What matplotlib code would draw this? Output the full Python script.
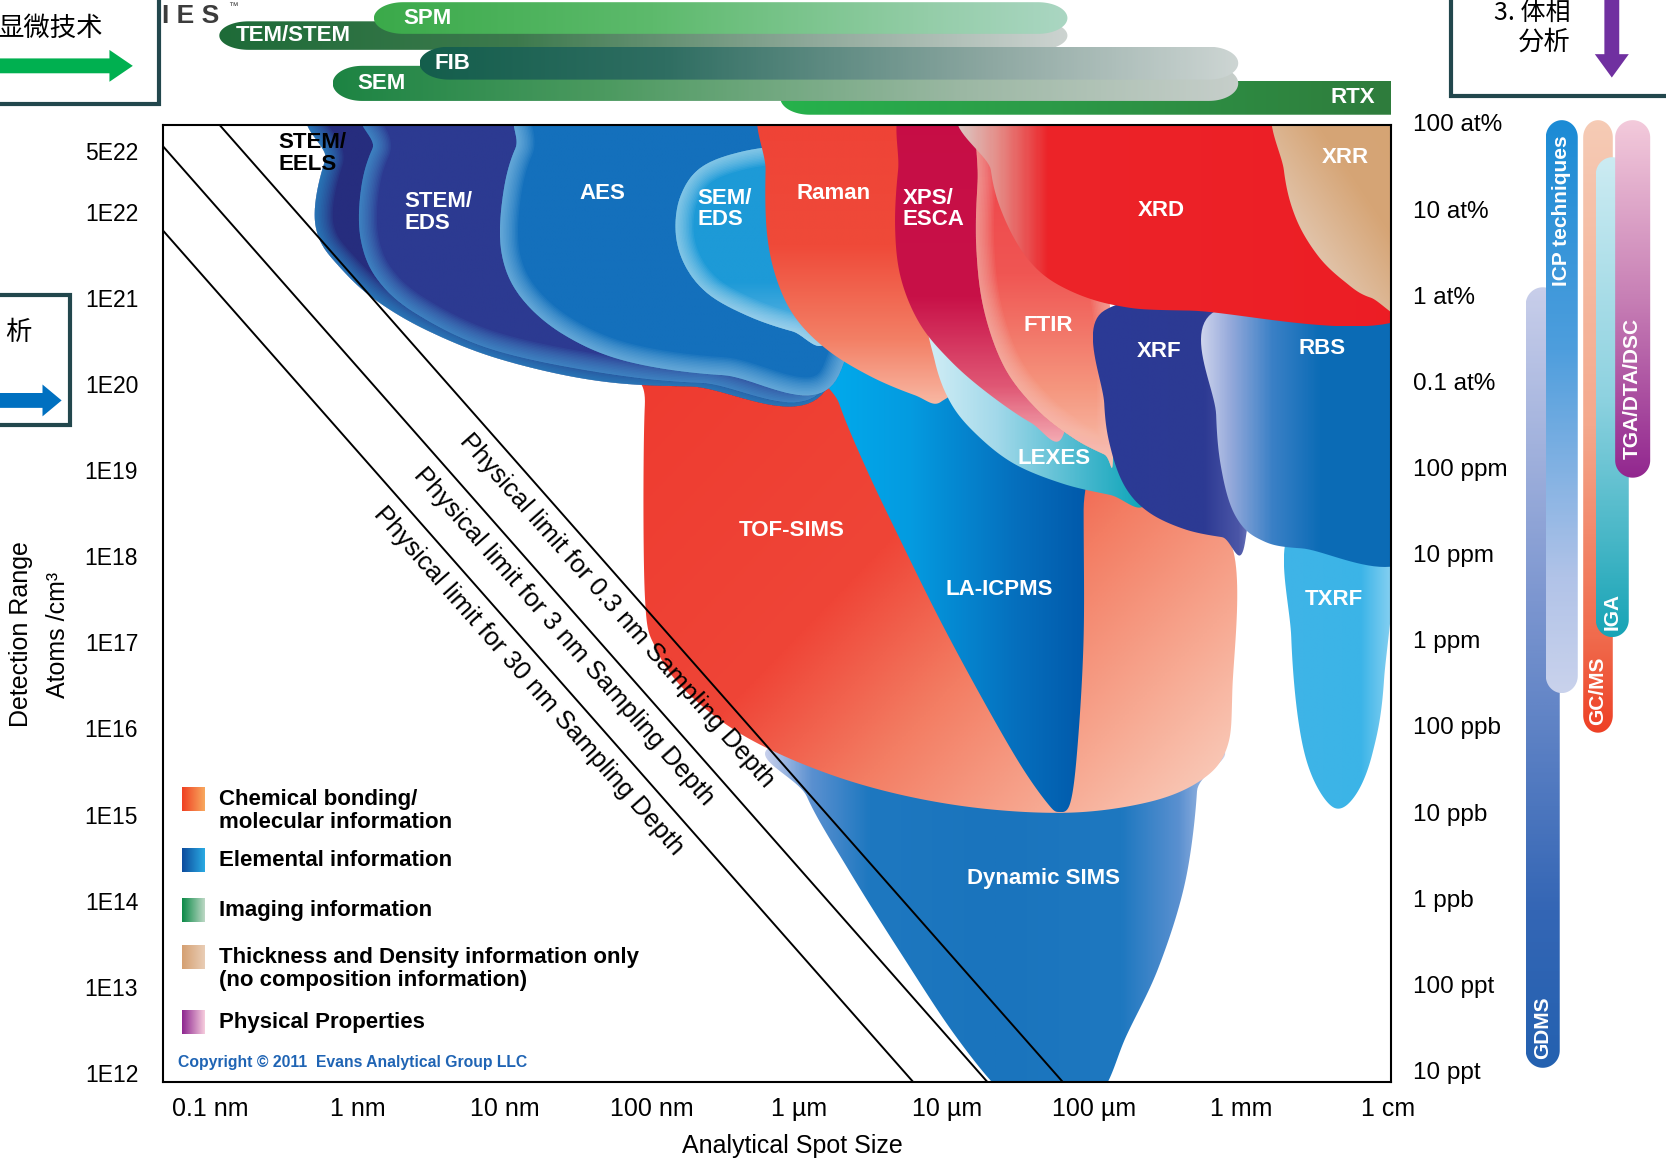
import numpy as np
import matplotlib
matplotlib.use('Agg')
import matplotlib.pyplot as plt
from matplotlib.path import Path
from matplotlib.patches import PathPatch, Rectangle, FancyArrow
from matplotlib.colors import LinearSegmentedColormap
from matplotlib.transforms import blended_transform_factory

plt.rcParams['font.family'] = ['Liberation Sans', 'DejaVu Sans']
CJK = ['Noto Sans CJK SC', 'DejaVu Sans']

# ---------------------------------------------------------------------------
# Axes: x = log10(spot size / m), y = log10(atoms / cm^3)
# ---------------------------------------------------------------------------
X_TICKS = [-10, -9, -8, -7, -6, -5, -4, -3, -2]
X_LABELS = ['0.1 nm', '1 nm', '10 nm', '100 nm', '1 µm', '10 µm', '100 µm', '1 mm', '1 cm']
Y_TICKS = [22.7, 22, 21, 20, 19, 18, 17, 16, 15, 14, 13, 12]
Y_LABELS = ['5E22', '1E22', '1E21', '1E20', '1E19', '1E18', '1E17', '1E16',
            '1E15', '1E14', '1E13', '1E12']
R_TICKS = [23, 22, 21, 20, 19, 18, 17, 16, 15, 14, 13, 12]
R_LABELS = ['100 at%', '10 at%', '1 at%', '0.1 at%', '100 ppm', '10 ppm', '1 ppm',
            '100 ppb', '10 ppb', '1 ppb', '100 ppt', '10 ppt']

# physical limit lines: y = -LIMIT_SLOPE * x + intercept
LIMIT_DEPTH = ['0.3 nm', '3 nm', '30 nm']
LIMIT_INTERCEPT = [3.725, 2.732, 1.754]
LIMIT_SLOPE = 1.94
LIMIT_LABEL_X = [-7.18, -7.54, -7.78]

# ---------------------------------------------------------------------------
# Technique regions (outlines)
# ---------------------------------------------------------------------------
DSIMS_X = [-6.05, -3.32, -3.30, -3.38, -3.56, -3.78, -3.96, -4.29, -4.61, -4.94, -5.30, -5.66, -5.95]
DSIMS_Y = [15.85, 15.85, 15.27, 14.22, 13.23, 12.43, 11.75, 11.38, 11.75, 12.43, 13.36, 14.34, 15.21]
TOF_X = [-6.98, -7.05, -7.05, -6.97, -6.74, -6.31, -5.66, -4.94, -4.21, -3.64, -3.28, -3.10, -3.06, -3.06, -3.49, -4.94, -5.80]
TOF_Y = [20.01, 19.75, 17.55, 16.91, 16.38, 15.85, 15.39, 15.11, 15.02, 15.14, 15.39, 15.76, 16.44, 18.10, 18.78, 19.64, 20.01]
LAICP_X = [-5.84, -5.73, -5.55, -5.31, -5.04, -4.75, -4.50, -4.32, -4.24, -4.16, -4.11, -4.07, -4.07, -4.07]
LAICP_Y = [20.45, 19.77, 19.03, 18.17, 17.24, 16.32, 15.58, 15.14, 15.03, 15.14, 15.82, 17.06, 18.54, 20.45]
STEM_EELS_X = [-9.05, -9.22, -9.29, -9.26, -9.13, -8.90, -8.54, -8.04, -7.39, -6.74, -5.80, -5.73]
STEM_EELS_Y = [23.3, 22.6, 22.05, 21.68, 21.37, 21.0, 20.63, 20.29, 20.04, 19.97, 19.99, 23.3]
STEM_EDS_X = [-8.70, -8.90, -8.98, -8.98, -8.87, -8.61, -8.11, -7.39, -6.67, -5.80, -5.73]
STEM_EDS_Y = [23.3, 22.73, 22.23, 21.68, 21.22, 20.82, 20.41, 20.14, 20.01, 20.04, 23.3]
AES_X = [-7.71, -7.93, -8.02, -8.02, -7.89, -7.60, -7.17, -6.52, -5.73, -5.66]
AES_Y = [23.3, 22.73, 22.11, 21.49, 21.00, 20.57, 20.26, 20.10, 20.11, 23.3]
SEM_EDS_X = [-5.95, -6.38, -6.67, -6.81, -6.84, -6.77, -6.61, -6.34, -6.05, -5.80, -5.66, -5.73]
SEM_EDS_Y = [22.80, 22.70, 22.51, 22.17, 21.74, 21.35, 21.03, 20.78, 20.61, 20.53, 21.99, 22.85]
RAMAN_X = [-6.20, -6.23, -6.22, -6.15, -6.02, -5.80, -5.51, -5.22, -5.04, -4.90, -5.08, -5.15]
RAMAN_Y = [23.3, 22.48, 21.74, 21.19, 20.75, 20.38, 20.08, 19.87, 19.79, 20.26, 21.99, 23.3]
LEXES_X = [-5.12, -5.08, -4.97, -4.79, -4.54, -4.21, -3.89, -3.64, -3.60, -4.21, -4.79]
LEXES_Y = [20.88, 20.26, 19.77, 19.40, 19.07, 18.84, 18.71, 18.63, 19.77, 20.75, 21.00]
XPS_X = [-5.26, -5.33, -5.35, -5.31, -5.18, -4.97, -4.72, -4.43, -4.21, -4.14, -4.50]
XPS_Y = [23.3, 22.48, 21.80, 21.22, 20.69, 20.26, 19.89, 19.55, 19.40, 20.75, 23.3]
FTIR_X = [-4.75, -4.79, -4.80, -4.75, -4.61, -4.39, -4.14, -3.93, -3.87, -3.89, -4.21]
FTIR_Y = [23.3, 22.36, 21.62, 20.88, 20.20, 19.71, 19.37, 19.18, 19.15, 20.88, 23.3]
XRF_X = [-3.93, -3.93, -3.88, -3.78, -3.62, -3.38, -3.13, -2.97, -2.91]
XRF_Y = [20.85, 19.77, 19.21, 18.78, 18.50, 18.31, 18.22, 18.20, 20.85]
RBS_X = [-3.17, -3.17, -3.13, -3.04, -2.88, -2.59, -1.80, -1.80]
RBS_Y = [20.85, 19.64, 18.97, 18.47, 18.20, 18.09, 18.08, 20.85]
TXRF_X = [-2.66, -2.66, -2.61, -2.52, -2.37, -2.23, -2.11, -2.03, -2.01]
TXRF_Y = [18.30, 17.06, 16.07, 15.45, 15.08, 15.21, 15.70, 16.56, 18.30]
XRD_X = [-4.72, -4.70, -4.61, -4.44, -4.21, -3.85, -3.35, -1.80, -1.80]
XRD_Y = [23.3, 22.48, 21.93, 21.43, 21.12, 20.91, 20.85, 20.85, 23.3]
XRR_X = [-2.73, -2.71, -2.63, -2.48, -2.30, -2.12, -1.80, -1.80]
XRR_Y = [23.3, 22.48, 21.93, 21.49, 21.19, 21.00, 20.91, 23.3]

# region labels
LABEL_TEXT = ['STEM/\nEELS', 'STEM/\nEDS', 'AES', 'SEM/\nEDS', 'Raman', 'XPS/\nESCA', 'XRD', 'XRR',
              'FTIR', 'XRF', 'RBS', 'LEXES', 'TOF-SIMS', 'LA-ICPMS', 'TXRF', 'Dynamic SIMS']
LABEL_X = [-9.54, -8.68, -7.34, -6.69, -5.77, -5.30, -3.54, -2.29,
           -4.31, -3.56, -2.45, -4.27, -6.05, -4.64, -2.37, -4.34]
LABEL_Y = [22.67, 21.99, 22.21, 22.03, 22.21, 22.03, 22.01, 22.63,
           20.68, 20.38, 20.41, 19.13, 18.30, 17.61, 17.50, 14.26]

# imaging techniques (top bars), in draw order
BAR_NAMES = ['RTX', 'SEM', 'TEM/STEM', 'SPM', 'FIB']
BAR_X0 = [-6.13, -9.17, -9.94, -8.89, -8.58]
BAR_X1 = [-1.90, -3.02, -4.18, -4.18, -3.02]
BAR_Y0 = [0.34, 0.78, 2.41, 2.92, 1.46]
BAR_Y1 = [1.42, 1.90, 3.32, 3.93, 2.51]
BAR_LABEL_X = [-2.09, -9.00, -9.83, -8.69, -8.48]

# bulk techniques (right bars), in draw order
RB_NAMES = ['GDMS', 'ICP techniques', 'GC/MS', 'IGA', 'TGA/DTA/DSC']
RB_X0 = [0.5, 1.09, 2.19, 2.56, 3.13]
RB_X1 = [1.5, 2.03, 3.06, 3.53, 4.16]
RB_Y0 = [12.06, 16.41, 15.95, 17.06, 18.91]
RB_Y1 = [21.12, 23.06, 23.06, 22.63, 23.06]
RB_LABEL_Y = [12.53, 22.01, 16.44, 17.36, 19.95]

LEGEND_TEXT = ['Chemical bonding/\nmolecular information', 'Elemental information',
               'Imaging information',
               'Thickness and Density information only\n(no composition information)',
               'Physical Properties']
LEGEND_Y = [15.18, 14.47, 13.89, 13.34, 12.59]
LEGEND_TEXT_Y = [15.04, 14.47, 13.89, 13.21, 12.59]
LEGEND_COLORS = [('#EF4123', '#F8A85E'), ('#0D4C9E', '#2AAAE2'), ('#0C8A48', '#BCD8C4'),
                 ('#D5A072', '#E9CDB5'), ('#8E2690', '#F6CCDD')]


def smooth_closed(xs, ys, n=24):
    p = np.column_stack([xs, ys]).astype(float)
    m = len(p)
    t = np.linspace(0, 1, n, endpoint=False)[:, None]
    segs = []
    for i in range(m):
        p0, p1, p2, p3 = p[i - 1], p[i], p[(i + 1) % m], p[(i + 2) % m]
        segs.append(0.5 * (2 * p1 + (p2 - p0) * t + (2 * p0 - 5 * p1 + 4 * p2 - p3) * t ** 2
                           + (3 * p1 - p0 - 3 * p2 + p3) * t ** 3))
    out = np.vstack(segs)
    return np.vstack([out, out[:1]])


def pill(x0, x1, y0, y1, rx, ry, vertical=False, square_right=False):
    t = np.linspace(-np.pi / 2, np.pi / 2, 40)
    if not vertical:
        yc = (y0 + y1) / 2
        ry = (y1 - y0) / 2
        if square_right:
            right = np.array([[x1, y0], [x1, y1]])
        else:
            right = np.column_stack([x1 - rx + rx * np.cos(t), yc + ry * np.sin(t)])
        left = np.column_stack([x0 + rx - rx * np.cos(t), yc - ry * np.sin(t)])
        v = np.vstack([right, left])
    else:
        xc = (x0 + x1) / 2
        rx = (x1 - x0) / 2
        top = np.column_stack([xc + rx * np.sin(t), y1 - ry + ry * np.cos(t)])
        bot = np.column_stack([xc - rx * np.sin(t), y0 + ry - ry * np.cos(t)])
        v = np.vstack([top, bot])
    return np.vstack([v, v[:1]])


def shade(axis, verts, stops, angle=0.0, z=1, rim=None):
    path = Path(verts, closed=True)
    clip = PathPatch(path, facecolor='none', edgecolor='none', zorder=z)
    axis.add_patch(clip)
    x0, y0 = verts.min(axis=0)
    x1, y1 = verts.max(axis=0)
    u, v = np.meshgrid(np.linspace(0, 1, 300), np.linspace(0, 1, 300))
    if angle == 'sym':
        g = np.abs(2 * u - 1)
    else:
        a = np.radians(angle)
        g = u * np.cos(a) + v * np.sin(a)
        g = (g - g.min()) / (g.max() - g.min())
    cmap = LinearSegmentedColormap.from_list('g', stops)
    im = axis.imshow(g, extent=(x0, x1, y0, y1), origin='upper', cmap=cmap, vmin=0, vmax=1,
                     aspect='auto', interpolation='bilinear', zorder=z)
    im.set_clip_path(clip)
    if rim:
        # soft inner glow along the outline
        for lw in np.linspace(26, 2, 12):
            r = PathPatch(path, facecolor='none', edgecolor=rim, lw=lw, alpha=0.075,
                          zorder=z, joinstyle='round')
            axis.add_patch(r)
            r.set_clip_path(clip)


fig = plt.figure(figsize=(16.66, 11.62), dpi=100)
fig.patch.set_facecolor('white')

# decorations (cropped boxes) in picture coordinates
ov = fig.add_axes([0, 0, 1, 1], zorder=-5)
ov.set_xlim(0, 1568)
ov.set_ylim(1094, 0)
ov.axis('off')
BOX = '#22474D'
ov.add_patch(Rectangle((-10, -10), 160, 108, fc='white', ec=BOX, lw=3))
ov.text(97, 27, '显微技术', ha='right', va='center', fontsize=19, family=CJK)
ov.add_patch(FancyArrow(-5, 62, 130, 0, width=14, head_width=30, head_length=22,
                        length_includes_head=True, fc='#00B050', ec='none'))
ov.add_patch(Rectangle((-10, 278), 76, 122, fc='white', ec=BOX, lw=3))
ov.text(17, 313, '析', ha='center', va='center', fontsize=19, family=CJK)
ov.add_patch(FancyArrow(-5, 377, 63, 0, width=14, head_width=30, head_length=18,
                        length_includes_head=True, fc='#0070C0', ec='none'))
ov.add_patch(Rectangle((1366, -10), 220, 100, fc='white', ec=BOX, lw=3))
ov.text(1478, 13, '3. 体相', ha='right', va='center', fontsize=18, family=CJK)
ov.text(1478, 40, '分析', ha='right', va='center', fontsize=19, family=CJK)
ov.add_patch(FancyArrow(1517, -5, 0, 78, width=14, head_width=32, head_length=22,
                        length_includes_head=True, fc='#7030A0', ec='none'))
ov.text(152, 15, 'I E S', ha='left', va='center', fontsize=19, fontweight='bold', color='#3C3C3C')
ov.text(215, 6, '™', ha='left', va='center', fontsize=7, color='#3C3C3C')

# main chart
ax = fig.add_axes([0.0976, 0.0692, 0.7372, 0.8229])
ax.set_xlim(-10.325, -1.984)
ax.set_ylim(11.9, 23.0)
ax.set_autoscale_on(False)
ax.set_facecolor('white')

SHAPES = [
    (DSIMS_X, DSIMS_Y, [(0, '#1A74BD'), (0.55, '#1E78C0'), (0.8, '#5A90D0'), (1, '#C6CFEC')], 'sym', None),
    (TOF_X, TOF_Y, [(0, '#EE3B30'), (0.4, '#EF4537'), (0.6, '#F37D63'), (0.8, '#F7A891'), (1, '#FAD3C3')], 35, None),
    (LAICP_X, LAICP_Y, [(0, '#00AEEF'), (0.35, '#049BE0'), (0.7, '#0670BE'), (1, '#0054A6')], 0, None),
    (STEM_EELS_X, STEM_EELS_Y, [(0, '#262D7E'), (1, '#262D7E')], 0, '#35A6DE'),
    (STEM_EDS_X, STEM_EDS_Y, [(0, '#2C3A91'), (1, '#2C3A91')], 0, '#4FB4E4'),
    (AES_X, AES_Y, [(0, '#1470BC'), (1, '#1470BC')], 0, '#9BD0EE'),
    (SEM_EDS_X, SEM_EDS_Y, [(0, '#1D9AD7'), (0.7, '#1D9AD7'), (1, '#6FBCE6')], 90, '#C6E6F6'),
    (RAMAN_X, RAMAN_Y, [(0, '#EF4136'), (0.5, '#EF4A39'), (0.8, '#F38066'), (1, '#F8B7A2')], 90, None),
    (LEXES_X, LEXES_Y, [(0, '#D2EEF6'), (0.3, '#A3D9EA'), (0.7, '#42B6CC'), (1, '#00A1B3')], 0, None),
    (XPS_X, XPS_Y, [(0, '#C60D45'), (0.6, '#C81148'), (0.85, '#E05875'), (1, '#F3A9B1')], 90, None),
    (FTIR_X, FTIR_Y, [(0, '#EE3A46'), (0.5, '#F05653'), (0.8, '#F5977F'), (1, '#F9C3B1')], 90, '#F6C2BA'),
    (TXRF_X, TXRF_Y, [(0, '#3FB4E7'), (0.7, '#3BB4E8'), (1, '#8BD2F2')], 0, None),
    (XRF_X, XRF_Y, [(0, '#2B3A96'), (0.65, '#2D3A93'), (0.85, '#4B56A7'), (1, '#9AA2D6')], 0, None),
    (RBS_X, RBS_Y, [(0, '#CDD3EC'), (0.12, '#96AADB'), (0.3, '#3A80C6'), (0.5, '#0C6CB6'), (1, '#0B6BB5')], 0, None),
    (XRD_X, XRD_Y, [(0, '#DCC8C4'), (0.08, '#E58D88'), (0.18, '#EC2429'), (1, '#ED1C24')], 0, None),
    (XRR_X, XRR_Y, [(0, '#D4A473'), (0.45, '#D6A576'), (0.75, '#E2C6AE'), (1, '#E6EEF0')], 135, None),
]
for z, (xs, ys, stops, ang, rim) in enumerate(SHAPES):
    shade(ax, smooth_closed(xs, ys), stops, ang, z=2 + z, rim=rim)

for name, lx, ly in zip(LABEL_TEXT, LABEL_X, LABEL_Y):
    multi = '\n' in name
    ax.text(lx, ly, name, ha='left' if multi else 'center', va='center',
            fontsize=16, fontweight='bold', linespacing=1.05,
            color='black' if name.startswith('STEM/\nEELS') else 'white', zorder=40)

# physical limit lines
xx = np.array([-10.6, -3.0])
for depth, c, lx in zip(LIMIT_DEPTH, LIMIT_INTERCEPT, LIMIT_LABEL_X):
    ax.plot(xx, -LIMIT_SLOPE * xx + c, color='black', lw=1.4, zorder=45)
    p = ax.transData.transform([[lx, -LIMIT_SLOPE * lx + c], [lx + 1, -LIMIT_SLOPE * (lx + 1) + c]])
    ang = np.degrees(np.arctan2(p[1, 1] - p[0, 1], p[1, 0] - p[0, 0]))
    ax.text(lx, -LIMIT_SLOPE * lx + c - 0.2, f'Physical limit for {depth} Sampling Depth',
            rotation=ang, rotation_mode='anchor', ha='center', va='top', fontsize=18.5, zorder=46)

# legend
for (c0, c1), sy, ty, txt in zip(LEGEND_COLORS, LEGEND_Y, LEGEND_TEXT_Y, LEGEND_TEXT):
    cm = LinearSegmentedColormap.from_list('s', [c0, c1])
    ax.imshow(np.linspace(0, 1, 50)[None, :], extent=(-10.19, -10.04, sy - 0.135, sy + 0.135),
              cmap=cm, aspect='auto', zorder=40)
    ax.text(-9.94, ty, txt, ha='left', va='center', fontsize=16, fontweight='bold',
            linespacing=1.1, zorder=40)
ax.text(-10.22, 12.12, 'Copyright © 2011  Evans Analytical Group LLC', ha='left', va='center',
        fontsize=11.3, fontweight='bold', color='#1F64B4', zorder=40)

ax.set_xticks(X_TICKS, X_LABELS)
ax.set_yticks(Y_TICKS, Y_LABELS)
ax.tick_params(axis='x', length=0, pad=11, labelsize=18)
ax.tick_params(axis='y', length=0, pad=17.6, labelsize=16.5)
for s in ax.spines.values():
    s.set_linewidth(1.5)
    s.set_zorder(60)

blend = blended_transform_factory(ax.transAxes, ax.transData)
for ry, rl in zip(R_TICKS, R_LABELS):
    ax.text(1.018, ry, rl, transform=blend, ha='left', va='center', fontsize=17.5, clip_on=False)

fig.text(0.4758, 0.0134, 'Analytical Spot Size', ha='center', va='center', fontsize=18)
fig.text(0.0128, 0.454, 'Detection Range', rotation=90, ha='center', va='center', fontsize=18)
fig.text(0.0351, 0.454, 'Atoms /cm³', rotation=90, ha='center', va='center', fontsize=18)

# imaging techniques above the chart
ax_top = fig.add_axes([0.0976, 0.8921, 0.7372, 0.1079])
ax_top.set_xlim(-10.325, -1.984)
ax_top.set_ylim(0, 4)
ax_top.set_autoscale_on(False)
ax_top.axis('off')
BAR_STOPS = {
    'RTX': [(0, '#26B24C'), (0.4, '#2C9C48'), (1, '#2F7B3C')],
    'SEM': [(0, '#1D8443'), (0.3, '#4C9A60'), (0.7, '#9CB8A4'), (1, '#C6CECA')],
    'TEM/STEM': [(0, '#1E6B38'), (0.35, '#3D7A4D'), (0.7, '#8FA99A'), (1, '#CCD3D0')],
    'SPM': [(0, '#3BAA4A'), (0.4, '#5DBA6C'), (0.8, '#94CDA8'), (1, '#AAD6C2')],
    'FIB': [(0, '#145E4C'), (0.3, '#2F6E62'), (0.7, '#8EA8A2'), (1, '#CDD5D3')],
}
for i, name in enumerate(BAR_NAMES):
    v = pill(BAR_X0[i], BAR_X1[i], BAR_Y0[i], BAR_Y1[i], 0.2, None, square_right=(name == 'RTX'))
    shade(ax_top, v, BAR_STOPS[name], 0, z=2 + i)
for i, name in enumerate(BAR_NAMES):
    ax_top.text(BAR_LABEL_X[i], (BAR_Y0[i] + BAR_Y1[i]) / 2, name,
                ha='right' if name == 'RTX' else 'left', va='center',
                fontsize=16, fontweight='bold', color='white', zorder=3 + i)

# bulk techniques on the right
ax_r = fig.add_axes([0.9056, 0.0692, 0.0944, 0.8526])
ax_r.set_xlim(0, 4.625)
ax_r.set_ylim(11.9, 23.4)
ax_r.set_autoscale_on(False)
ax_r.axis('off')
RB_STOPS = [
    [(0, '#C8CEEA'), (0.4, '#7C96D0'), (0.8, '#3466B5'), (1, '#2461B0')],
    [(0, '#1B8BD5'), (0.4, '#4E9EDD'), (0.8, '#B1C3E8'), (1, '#C9D2EC')],
    [(0, '#F6CBB5'), (0.5, '#F4A88C'), (0.85, '#F06A4C'), (1, '#EE4126')],
    [(0, '#CCEBF2'), (0.5, '#8ED2E0'), (1, '#18A4B6')],
    [(0, '#F3CADB'), (0.5, '#C77FB5'), (1, '#92278F')],
]
for i, name in enumerate(RB_NAMES):
    v = pill(RB_X0[i], RB_X1[i], RB_Y0[i], RB_Y1[i], None, 0.2, vertical=True)
    shade(ax_r, v, RB_STOPS[i], 90, z=2 + i)
for i, name in enumerate(RB_NAMES):
    ax_r.text((RB_X0[i] + RB_X1[i]) / 2, RB_LABEL_Y[i], name, rotation=90, ha='center',
              va='center', fontsize=15, fontweight='bold', color='white', zorder=20)

fig.savefig('out.png', dpi=100, facecolor='white')
